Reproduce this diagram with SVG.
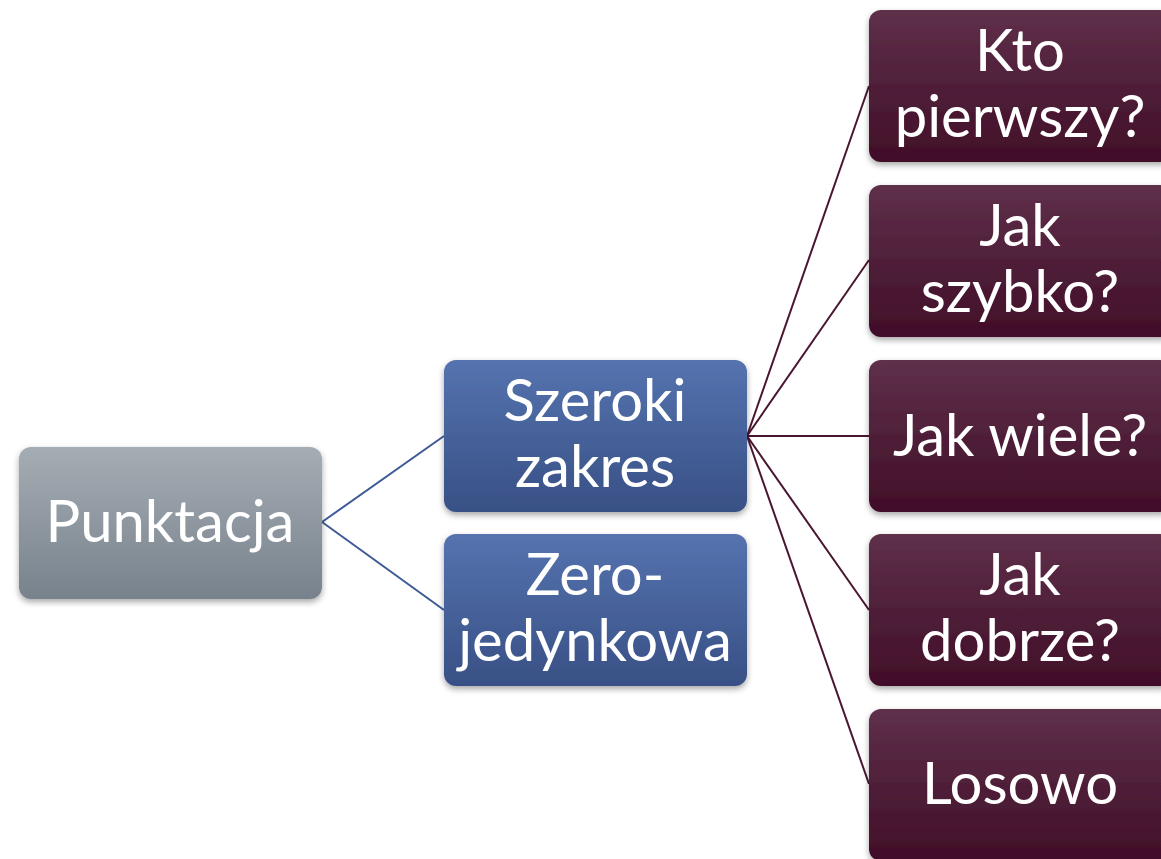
<svg xmlns="http://www.w3.org/2000/svg" width="1161" height="859" viewBox="0 0 1161 859">
<defs>
<linearGradient id="gGray" x1="0" y1="0" x2="0" y2="1"><stop offset="0" stop-color="#A5ADB4"/><stop offset="1" stop-color="#78828C"/></linearGradient>
<linearGradient id="gBlue" x1="0" y1="0" x2="0" y2="1"><stop offset="0" stop-color="#5573AF"/><stop offset="1" stop-color="#385085"/></linearGradient>
<linearGradient id="gRed" x1="0" y1="0" x2="0" y2="1"><stop offset="0" stop-color="#5F304A"/><stop offset="1" stop-color="#410E28"/></linearGradient>
<filter id="sh" x="-10%" y="-10%" width="120%" height="130%"><feDropShadow dx="0" dy="3" stdDeviation="3" flood-color="#000" flood-opacity="0.35"/></filter>
<style>
.t{font-family:Lato,"Open Sans","Liberation Sans",sans-serif;font-size:58px;fill:#fff;text-anchor:middle}
.cb{stroke:#3D5A96;stroke-width:2;fill:none}
.cr{stroke:#4A1530;stroke-width:2;fill:none}
</style>
</defs>
<g id="connectors">
<line class="cb" x1="322" y1="522" x2="444" y2="436"/>
<line class="cb" x1="322" y1="522" x2="444" y2="610"/>
<line class="cr" x1="747" y1="436" x2="869" y2="86"/>
<line class="cr" x1="747" y1="436" x2="869" y2="260"/>
<line class="cr" x1="747" y1="436" x2="869" y2="436"/>
<line class="cr" x1="747" y1="436" x2="869" y2="610"/>
<line class="cr" x1="747" y1="436" x2="869" y2="784"/>
</g>
<g id="punktacja"><rect x="19" y="447" width="303" height="152" rx="12" fill="url(#gGray)" filter="url(#sh)"/><text class="t" x="170" y="542">Punktacja</text></g>
<g id="szeroki"><rect x="444" y="360" width="303" height="152" rx="12" fill="url(#gBlue)" filter="url(#sh)"/><text class="t" x="595" y="421">Szeroki</text><text class="t" x="595" y="487">zakres</text></g>
<g id="zero"><rect x="444" y="534" width="303" height="152" rx="12" fill="url(#gBlue)" filter="url(#sh)"/><text class="t" x="595" y="595">Zero-</text><text class="t" x="595" y="661">jedynkowa</text></g>
<g id="kto"><rect x="869" y="10" width="303" height="152" rx="12" fill="url(#gRed)" filter="url(#sh)"/><text class="t" x="1020" y="71">Kto</text><text class="t" x="1020" y="137">pierwszy?</text></g>
<g id="szybko"><rect x="869" y="185" width="303" height="152" rx="12" fill="url(#gRed)" filter="url(#sh)"/><text class="t" x="1020" y="246">Jak</text><text class="t" x="1020" y="312">szybko?</text></g>
<g id="wiele"><rect x="869" y="360" width="303" height="152" rx="12" fill="url(#gRed)" filter="url(#sh)"/><text class="t" x="1020" y="456">Jak wiele?</text></g>
<g id="dobrze"><rect x="869" y="534" width="303" height="152" rx="12" fill="url(#gRed)" filter="url(#sh)"/><text class="t" x="1020" y="595">Jak</text><text class="t" x="1020" y="661">dobrze?</text></g>
<g id="losowo"><rect x="869" y="709" width="303" height="152" rx="12" fill="url(#gRed)" filter="url(#sh)"/><text class="t" x="1020" y="804">Losowo</text></g>
</svg>
